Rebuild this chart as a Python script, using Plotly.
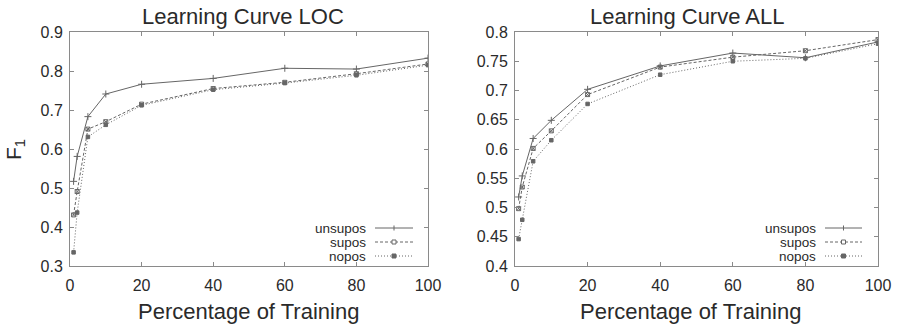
import plotly.graph_objects as go

# ---- data ----
pct = [1, 2, 5, 10, 20, 40, 60, 80, 100]

loc_unsupos = [0.517, 0.581, 0.683, 0.741, 0.766, 0.781, 0.807, 0.805, 0.833]
loc_supos   = [0.431, 0.491, 0.651, 0.670, 0.715, 0.755, 0.771, 0.793, 0.818]
loc_nopos   = [0.335, 0.437, 0.631, 0.662, 0.712, 0.752, 0.769, 0.789, 0.815]

all_unsupos = [0.518, 0.554, 0.618, 0.649, 0.702, 0.742, 0.764, 0.756, 0.783]
all_supos   = [0.498, 0.535, 0.601, 0.631, 0.693, 0.740, 0.757, 0.768, 0.787]
all_nopos   = [0.446, 0.479, 0.579, 0.615, 0.677, 0.727, 0.750, 0.755, 0.780]

series_names = ["unsupos", "supos", "nopos"]
x_ticks = [0, 20, 40, 60, 80, 100]
loc_yticks = [0.3, 0.4, 0.5, 0.6, 0.7, 0.8, 0.9]
all_yticks = [0.4, 0.45, 0.5, 0.55, 0.6, 0.65, 0.7, 0.75, 0.8]
all_ytext = ["0.4", "0.45", "0.5", "0.55", "0.6", "0.65", "0.7", "0.75", "0.8"]
titles = ["Learning Curve LOC", "Learning Curve ALL"]

W, H = 897, 329
FONT = "Liberation Sans, Arial, sans-serif"
TXT = "#2a2a2a"
LINE = "#666666"

styles = {
    "unsupos": dict(dash="solid", symbol="cross-thin", size=5, width=1.0),
    "supos": dict(dash="3px,2px", symbol="square-x-open", size=4, width=1.0),
    "nopos": dict(dash="1px,2px", symbol="square", size=3.5, width=1.0),
}

fig = go.Figure()

panels = [
    ("x", "y", [loc_unsupos, loc_supos, loc_nopos]),
    ("x2", "y2", [all_unsupos, all_supos, all_nopos]),
]
for xa, ya, vals in panels:
    for name, v in zip(series_names, vals):
        s = styles[name]
        fig.add_trace(go.Scatter(
            x=pct, y=v, xaxis=xa, yaxis=ya, mode="lines+markers", name=name,
            showlegend=False,
            line=dict(color=LINE, width=s["width"], dash=s["dash"]),
            marker=dict(symbol=s["symbol"], size=s["size"], color=LINE,
                        line=dict(color=LINE, width=1)),
        ))

def px(x):
    return x / W

def py(y):
    return 1 - y / H

axis_common = dict(
    showgrid=False, zeroline=False, showline=True, mirror="allticks",
    linecolor="#8a8a8a", linewidth=1, ticks="inside", ticklen=4,
    tickcolor="#8a8a8a", tickfont=dict(family=FONT, size=16, color=TXT),
    automargin=False,
)

yd = [py(266), py(32)]
fig.update_layout(
    template="none",
    width=W, height=H, margin=dict(l=0, r=0, t=0, b=0, pad=0),
    paper_bgcolor="white", plot_bgcolor="white", showlegend=False,
    xaxis=dict(domain=[px(70), px(428)], range=[0, 100], tickvals=x_ticks,
               anchor="y", ticklabelstandoff=5, **axis_common),
    yaxis=dict(domain=yd, range=[0.3, 0.9], tickvals=loc_yticks,
               tickformat=".1f", anchor="x", ticklabelstandoff=3, **axis_common),
    xaxis2=dict(domain=[px(515), px(878)], range=[0, 100], tickvals=x_ticks,
                anchor="y2", ticklabelstandoff=5, **axis_common),
    yaxis2=dict(domain=yd, range=[0.4, 0.8], tickvals=all_yticks,
                ticktext=all_ytext, anchor="x2", ticklabelstandoff=3, **axis_common),
)

ann = []
# titles
for t, cx in zip(titles, [243, 687]):
    ann.append(dict(text=t, x=px(cx), y=py(16), xref="paper", yref="paper",
                    showarrow=False, xanchor="center", yanchor="middle",
                    font=dict(family=FONT, size=22, color=TXT)))
# x axis titles
for cx in [248, 690]:
    ann.append(dict(text="Percentage of Training", x=px(cx), y=py(311),
                    xref="paper", yref="paper", showarrow=False,
                    xanchor="center", yanchor="middle",
                    font=dict(family=FONT, size=22, color=TXT)))
# y axis title
ann.append(dict(text="F<sub>1</sub>", x=px(15), y=py(150), xref="paper",
                yref="paper", showarrow=False, textangle=-90,
                xanchor="center", yanchor="middle",
                font=dict(family=FONT, size=21, color=TXT)))

shapes = []
# legends (gnuplot style: label on left, sample on right)
rows = [228, 242, 256]
for text_right, l0, l1 in [(367, 375, 413), (817, 825, 862)]:
    for name, ry in zip(series_names, rows):
        s = styles[name]
        ann.append(dict(text=name, x=px(text_right), y=py(ry), xref="paper",
                        yref="paper", showarrow=False, xanchor="right",
                        yanchor="middle", borderpad=0,
                        font=dict(family=FONT, size=13.5, color=TXT)))
        shapes.append(dict(type="line", xref="paper", yref="paper",
                           x0=px(l0), x1=px(l1), y0=py(ry), y1=py(ry),
                           line=dict(color=LINE, width=s["width"], dash=s["dash"])))
        mx = (l0 + l1) / 2
        if name == "unsupos":
            shapes.append(dict(type="line", xref="paper", yref="paper",
                               x0=px(mx), x1=px(mx), y0=py(ry - 2.5), y1=py(ry + 2.5),
                               line=dict(color=LINE, width=1)))
        else:
            shapes.append(dict(type="rect", xref="paper", yref="paper",
                               x0=px(mx - 2), x1=px(mx + 2), y0=py(ry - 2), y1=py(ry + 2),
                               line=dict(color=LINE, width=1),
                               fillcolor=LINE if name == "nopos" else "white"))

fig.update_layout(annotations=ann, shapes=shapes)
fig.write_html("out.html", config={"displayModeBar": False},
               post_script="document.body.style.margin='0';document.body.style.overflow='hidden';")
